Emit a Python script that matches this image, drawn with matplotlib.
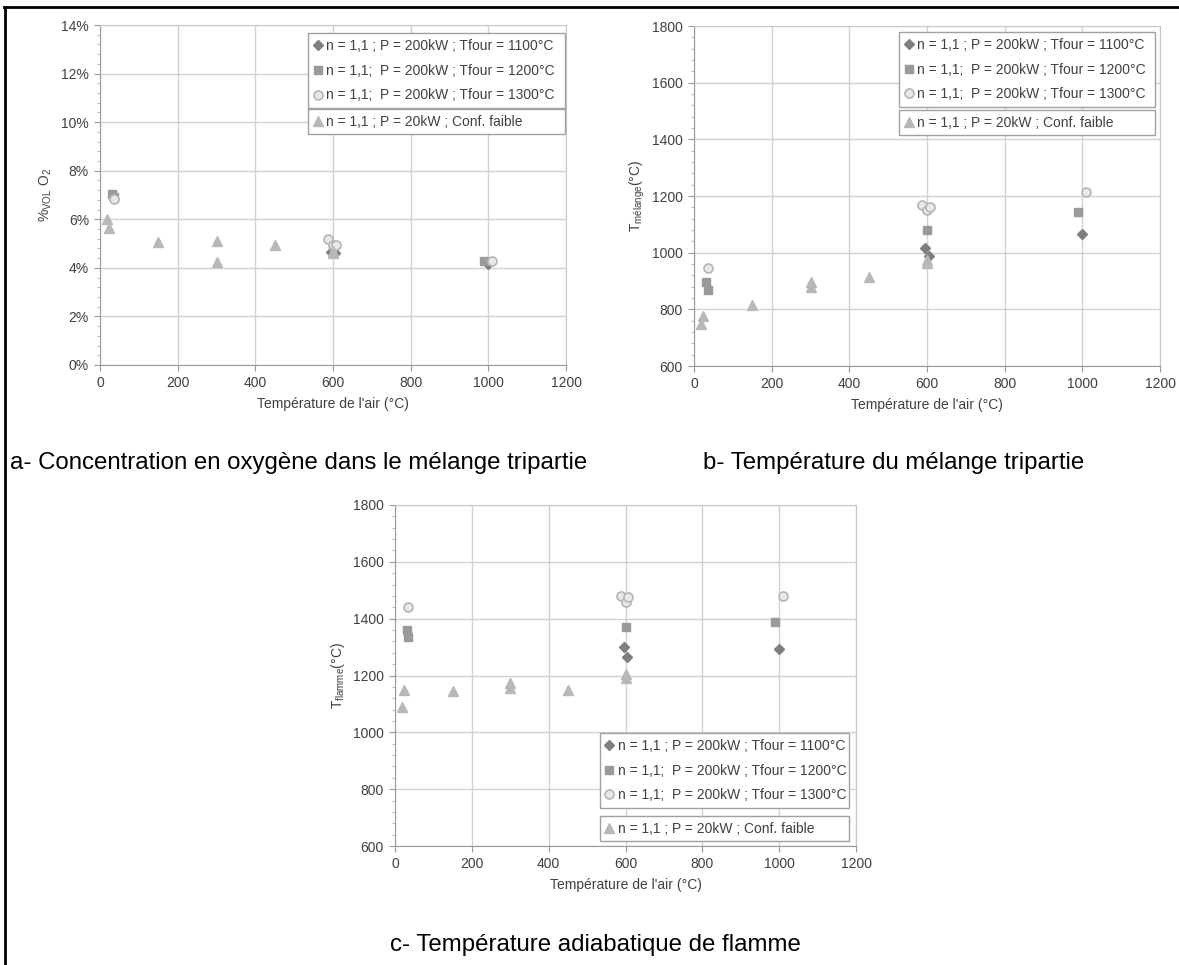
import matplotlib
matplotlib.use('Agg')
import matplotlib.pyplot as plt
from matplotlib.lines import Line2D
from matplotlib.ticker import AutoMinorLocator, FuncFormatter

plt.rcParams['font.family'] = ['Liberation Sans', 'DejaVu Sans']
plt.rcParams['mathtext.fontset'] = 'custom'
plt.rcParams['mathtext.rm'] = 'Liberation Sans'

labels = [
    'n = 1,1 ; P = 200kW ; Tfour = 1100°C',
    'n = 1,1;  P = 200kW ; Tfour = 1200°C',
    'n = 1,1;  P = 200kW ; Tfour = 1300°C',
    'n = 1,1 ; P = 20kW ; Conf. faible',
]

# air temperature (x) of each series
x_1100 = [595, 605, 1000]
x_1200 = [32, 35, 600, 990]
x_1300 = [35, 587, 600, 607, 1010]
x_20kw = [18, 24, 150, 300, 300, 450, 600, 600]

# a- oxygen concentration (%)
o2_1100 = [4.65, 4.6, 4.15]
o2_1200 = [7.05, 6.9, 4.9, 4.3]
o2_1300 = [6.85, 5.18, 4.95, 4.95, 4.3]
o2_20kw = [6.0, 5.64, 5.05, 5.1, 4.25, 4.93, 4.7, 4.62]

# b- mixture temperature (°C)
tm_1100 = [1015, 990, 1065]
tm_1200 = [895, 870, 1080, 1145]
tm_1300 = [945, 1170, 1150, 1160, 1215]
tm_20kw = [750, 775, 815, 895, 880, 915, 975, 965]

# c- adiabatic flame temperature (°C)
tf_1100 = [1300, 1265, 1295]
tf_1200 = [1360, 1335, 1370, 1390]
tf_1300 = [1440, 1480, 1460, 1475, 1480]
tf_20kw = [1090, 1150, 1145, 1175, 1155, 1150, 1205, 1190]

styles = [
    dict(marker='D', ms=4.6, color='#7f7f7f', mec='#7f7f7f'),
    dict(marker='s', ms=5.8, color='#9a9a9a', mec='#9a9a9a'),
    dict(marker='o', ms=6.5, color='#e8e8e8', mec='#b5b5b5', mew=1.2),
    dict(marker='^', ms=6.8, color='#b8b8b8', mec='#b8b8b8'),
]

W, H = 1179, 965
fig = plt.figure(figsize=(W / 100, H / 100), dpi=100)
FS = 10


def make_panel(rect, xs, ys, ylim, ystep, ylabel, fmt, leg1, leg2, ylabel_x):
    ax = fig.add_axes(rect)
    for x, y, st in zip(xs, ys, styles):
        ax.plot(x, y, ls='none', zorder=3, **st)
    ax.set_xlim(0, 1200)
    ax.set_ylim(*ylim)
    ax.set_xticks(range(0, 1201, 200))
    n = int(round((ylim[1] - ylim[0]) / ystep))
    ax.set_yticks([ylim[0] + i * ystep for i in range(n + 1)])
    ax.yaxis.set_minor_locator(AutoMinorLocator(5))
    if fmt is not None:
        ax.yaxis.set_major_formatter(FuncFormatter(fmt))
    ax.grid(True, color='#d2d2d2', lw=1.0)
    ax.set_axisbelow(True)
    for s in ax.spines.values():
        s.set_color('#c8c8c8')
    ax.spines['left'].set_color('#9a9a9a')
    ax.spines['bottom'].set_color('#9a9a9a')
    ax.tick_params(axis='both', labelsize=FS, colors='#9a9a9a', labelcolor='#404040', length=4, pad=4)
    ax.tick_params(axis='y', which='minor', length=2.5, colors='#b0b0b0')
    ax.set_xlabel("Température de l'air (°C)", fontsize=FS, color='#404040', labelpad=5)
    ax.set_ylabel(ylabel, fontsize=FS, color='#404040')
    ax.yaxis.set_label_coords(ylabel_x, 0.5)

    handles = [Line2D([], [], ls='none', **st) for st in styles]
    common = dict(loc='upper left', mode='expand', borderaxespad=0, fontsize=FS,
                  handlelength=0.6, handletextpad=0.3, borderpad=0.4,
                  fancybox=False, framealpha=1, edgecolor='#a0a0a0', labelcolor='#404040')
    l1 = ax.legend(handles[:3], labels[:3], bbox_to_anchor=leg1, labelspacing=0.78, **common)
    l1.get_frame().set_linewidth(1.0)
    ax.add_artist(l1)
    l2 = ax.legend(handles[3:], labels[3:], bbox_to_anchor=leg2, **common)
    l2.get_frame().set_linewidth(1.0)
    return ax


pct = lambda v, p: '%d%%' % round(v)

make_panel([100 / W, 1 - 365 / H, 466 / W, 340 / H],
           [x_1100, x_1200, x_1300, x_20kw], [o2_1100, o2_1200, o2_1300, o2_20kw],
           (0, 14), 2, '%$_\\mathregular{VOL}$ O$_\\mathregular{2}$', pct,
           (0.447, 0.976, 0.55, 0), (0.447, 0.753, 0.55, 0), -0.099)

make_panel([694 / W, 1 - 366 / H, 466 / W, 340 / H],
           [x_1100, x_1200, x_1300, x_20kw], [tm_1100, tm_1200, tm_1300, tm_20kw],
           (600, 1800), 200, 'T$_\\mathregular{mélange}$(°C)', None,
           (0.44, 0.982, 0.55, 0), (0.44, 0.753, 0.55, 0), -0.10)

make_panel([395 / W, 1 - 846 / H, 461 / W, 341 / H],
           [x_1100, x_1200, x_1300, x_20kw], [tf_1100, tf_1200, tf_1300, tf_20kw],
           (600, 1800), 200, 'T$_\\mathregular{flamme}$(°C)', None,
           (0.444, 0.331, 0.541, 0), (0.444, 0.088, 0.541, 0), -0.104)

cap = dict(fontsize=17.3, color='black', va='center')
fig.text(10 / W, 1 - 463 / H, 'a- Concentration en oxygène dans le mélange tripartie', ha='left', **cap)
fig.text(703 / W, 1 - 463 / H, 'b- Température du mélange tripartie', ha='left', **cap)
fig.text(390 / W, 1 - 945 / H, 'c- Température adiabatique de flamme', ha='left', **cap)

# frame lines of the original figure
fig.add_artist(Line2D([4 / W, 1], [1 - 7 / H, 1 - 7 / H], color='black', lw=2, transform=fig.transFigure))
fig.add_artist(Line2D([5 / W, 5 / W], [0, 1 - 7 / H], color='black', lw=2, transform=fig.transFigure))

fig.savefig('out.png', dpi=100)
